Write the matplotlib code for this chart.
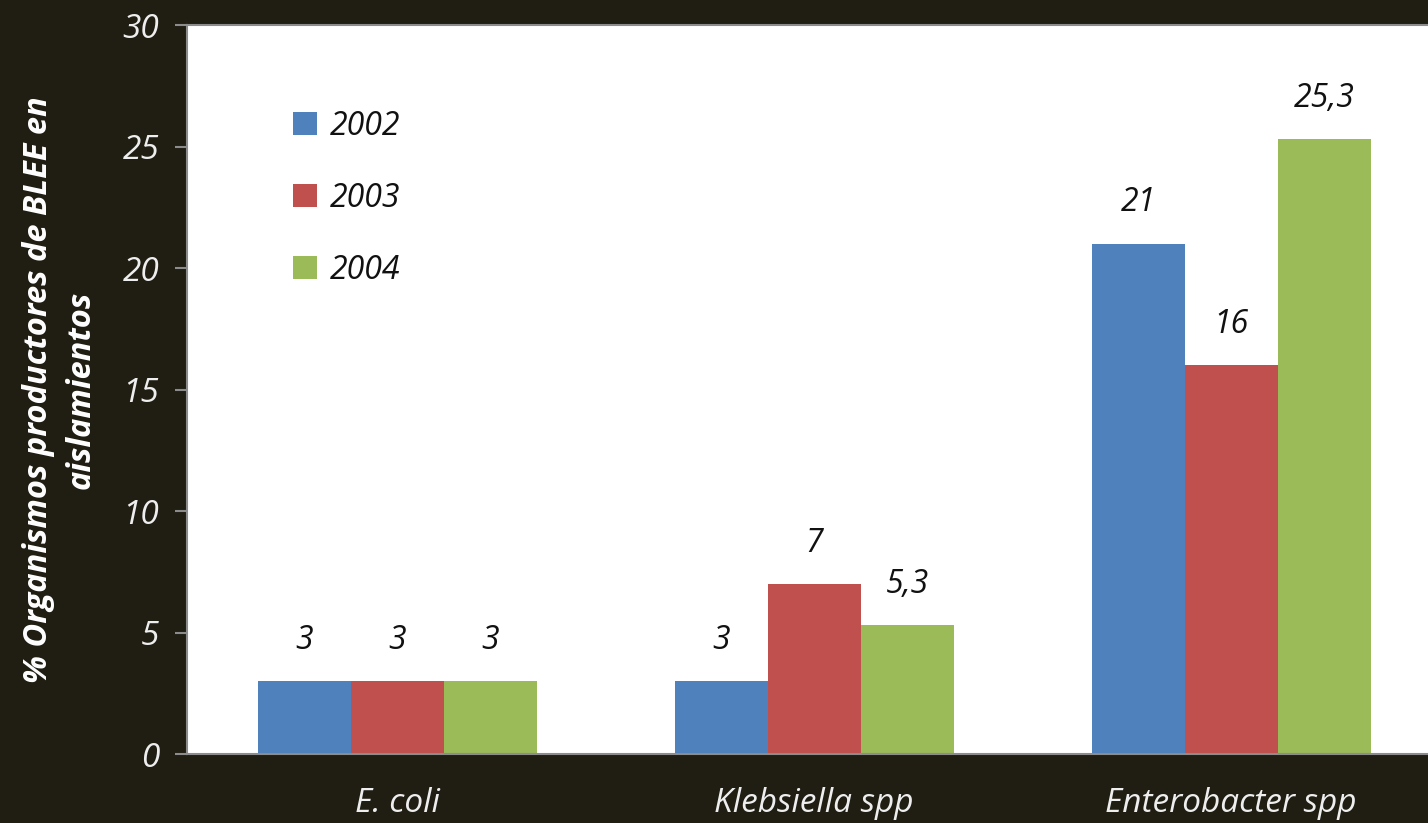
import numpy as np
import matplotlib
matplotlib.use("Agg")
import matplotlib.pyplot as plt

# % de organismos productores de BLEE por especie y año
especies = ["E. coli", "Klebsiella spp", "Enterobacter spp"]
anios = ["2002", "2003", "2004"]
v2002 = [3, 3, 21]
v2003 = [3, 7, 16]
v2004 = [3, 5.3, 25.3]
colores = ["#4f81bd", "#c0504d", "#9bbb59"]

fondo = "#201d13"
plt.rcParams["font.family"] = ["Open Sans", "DejaVu Sans"]

fig = plt.figure(figsize=(14.28, 8.23), dpi=100, facecolor=fondo)
ax = fig.add_axes([0.131, 0.0838, 0.869, 0.8858])
ax.set_facecolor("white")

x = np.arange(len(especies))
ancho = 0.223
series = [v2002, v2003, v2004]
for i, (vals, anio, c) in enumerate(zip(series, anios, colores)):
    pos = x + (i - 1) * ancho
    barras = ax.bar(pos, vals, ancho, color=c, label=anio, zorder=2)
    for b, v in zip(barras, vals):
        txt = f"{v:g}".replace(".", ",")
        ax.text(b.get_x() + b.get_width() / 2, v + 1.0, txt,
                ha="center", va="bottom", fontsize=23, style="italic",
                color="#111111")

ax.set_xlim(-0.504, 2.472)
ax.set_ylim(0, 30)
ax.set_yticks(np.arange(0, 31, 5))
ax.set_xticks(x)
ax.set_xticklabels(especies)

for lab in ax.get_yticklabels():
    lab.set_fontstyle("italic")
for lab in ax.get_xticklabels():
    lab.set_fontstyle("italic")

ax.tick_params(axis="y", colors="#8c8c8c", labelcolor="#eeeeee",
               labelsize=24, length=9, width=1.5, pad=11)
ax.tick_params(axis="x", length=0, labelcolor="#eeeeee", labelsize=24, pad=24)

for s in ["left", "bottom", "top"]:
    ax.spines[s].set_color("#8c8c8c")
    ax.spines[s].set_linewidth(1.5)
ax.spines["right"].set_visible(False)

ax.set_ylabel("% Organismos productores de BLEE en\naislamientos",
              fontsize=23.5, fontweight="bold", style="italic", color="white",
              labelpad=18, linespacing=1.4)

leg = ax.legend(loc="upper left", bbox_to_anchor=(0.062, 0.923), frameon=False,
                fontsize=23, handlelength=0.75, handleheight=0.75,
                handletextpad=0.4, labelspacing=1.22)
for t in leg.get_texts():
    t.set_fontstyle("italic")
    t.set_color("#111111")

fig.savefig("out.png", dpi=100, facecolor=fondo)
